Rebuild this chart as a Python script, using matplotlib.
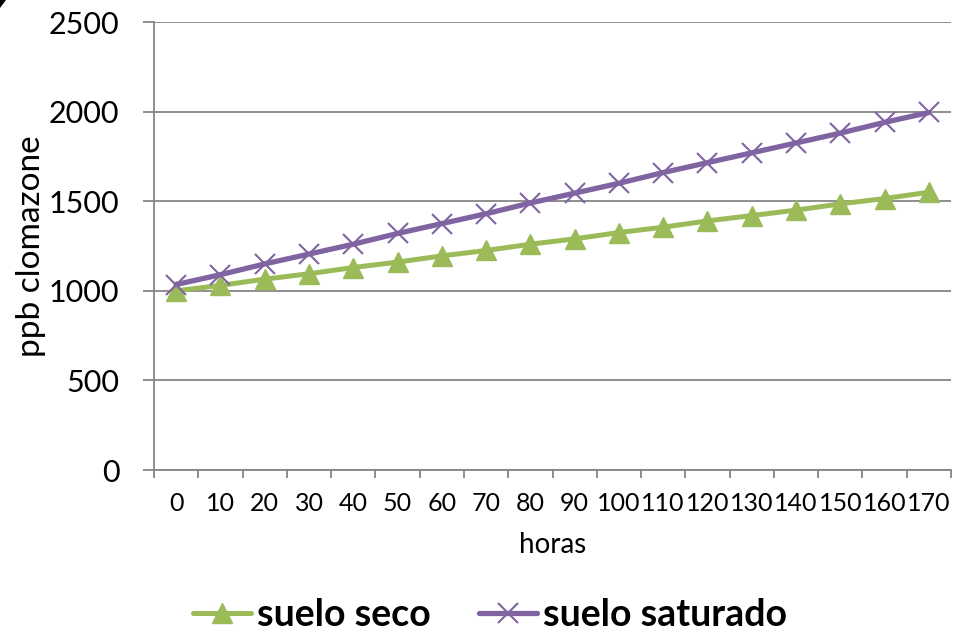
import matplotlib
matplotlib.use("Agg")
import matplotlib.pyplot as plt
from matplotlib.ticker import FixedLocator, NullFormatter
from matplotlib.patches import Polygon

horas = [0, 10, 20, 30, 40, 50, 60, 70, 80, 90, 100, 110, 120, 130, 140, 150, 160, 170]
suelo_seco = [1000, 1030, 1065, 1095, 1130, 1160, 1195, 1225, 1260, 1290,
              1325, 1355, 1390, 1420, 1450, 1485, 1515, 1550]
suelo_saturado = [1035, 1090, 1150, 1205, 1260, 1320, 1375, 1430, 1490, 1545,
                  1600, 1660, 1715, 1770, 1825, 1880, 1940, 1995]
y_ticks = [0, 500, 1000, 1500, 2000, 2500]

plt.rcParams['font.family'] = ['Lato', 'DejaVu Sans']

W, H = 961, 634
fig = plt.figure(figsize=(W / 100, H / 100), dpi=100)
ax = fig.add_axes([154 / W, 1 - 470 / H, (951 - 154) / W, (470 - 22) / H])

pos = list(range(len(horas)))
green = '#9BBB59'
purple = '#8064A2'
grid_c = '#868686'

ax.plot(pos, suelo_seco, color=green, lw=3.6, marker='^', markersize=14.5,
        markeredgecolor=green, label='suelo seco', zorder=3, solid_capstyle='round')
ax.plot(pos, suelo_saturado, color=purple, lw=3.8, marker='x', markersize=15,
        markeredgewidth=1.5, markeredgecolor=purple, label='suelo saturado', zorder=4,
        solid_capstyle='round')

ax.set_xlim(-0.5, len(horas) - 0.5)
ax.set_ylim(0, 2500)
ax.set_yticks(y_ticks)
ax.set_yticklabels([str(v) for v in y_ticks], fontsize=22)
ax.yaxis.grid(True, color=grid_c, lw=1.3)
ax.set_axisbelow(True)

ax.xaxis.set_major_locator(FixedLocator([i - 0.5 for i in range(len(horas) + 1)]))
ax.xaxis.set_major_formatter(NullFormatter())
ax.xaxis.set_minor_locator(FixedLocator(pos))
ax.set_xticklabels([str(h) for h in horas], minor=True, fontsize=18)
ax.tick_params(axis='x', which='major', direction='out', length=6, color=grid_c, width=1.3)
ax.tick_params(axis='x', which='minor', length=0, pad=16)
ax.tick_params(axis='y', direction='out', length=8, color=grid_c, width=1.3, pad=17)

for s in ['top', 'right']:
    ax.spines[s].set_visible(False)
for s in ['left', 'bottom']:
    ax.spines[s].set_color(grid_c)
    ax.spines[s].set_linewidth(1.3)

ax.set_xlabel('horas', fontsize=20, labelpad=12)
ax.set_ylabel('ppb clomazone', fontsize=24, labelpad=2)

leg = fig.legend(loc='center', bbox_to_anchor=(0.510, 0.030), ncol=2, frameon=False,
                 prop={'size': 27, 'weight': 'bold'}, handlelength=1.55, handletextpad=0.15,
                 columnspacing=1.3, borderaxespad=0)

# small corner of the chart border at top-left
fig.patches.append(Polygon([(0, 1), (6 / W, 1), (0, 1 - 8 / H)], closed=True,
                           transform=fig.transFigure, facecolor='black', edgecolor='none'))

fig.savefig('out.png', dpi=100)
